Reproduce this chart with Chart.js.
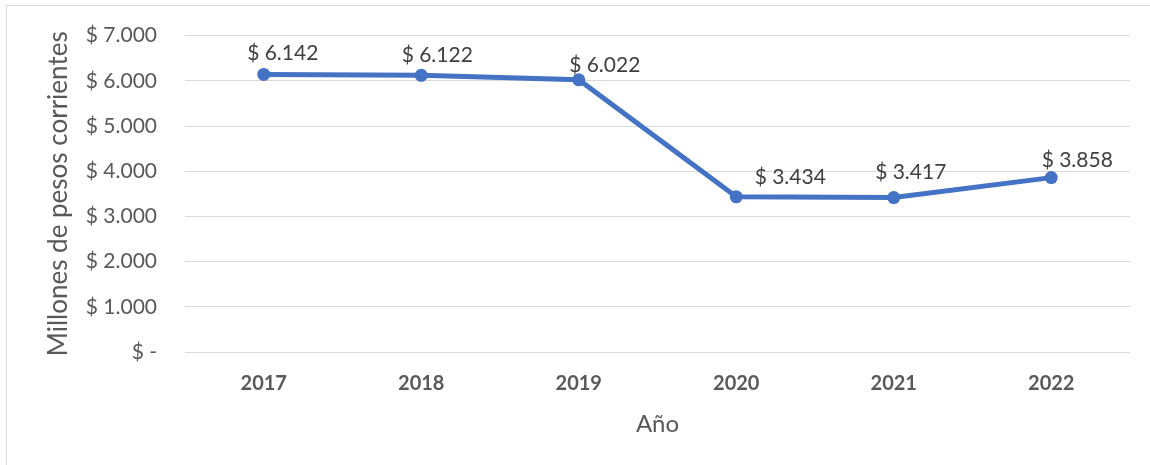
<!DOCTYPE html>
<html>
<head>
<meta charset="utf-8">
<script src="https://cdn.jsdelivr.net/npm/chart.js@4"></script>
<style>
  html, body { margin: 0; padding: 0; background: #fff; }
  #wrap { position: relative; width: 1150px; height: 465px; overflow: hidden; }
  #frame { position: absolute; left: 6px; top: 5px; width: 1200px; height: 500px; border: 1px solid #d9d9d9; box-sizing: border-box; }
  canvas { position: absolute; left: 0; top: -5px; }
</style>
</head>
<body>
<div id="wrap">
  <div id="frame"></div>
  <canvas id="c" width="1150" height="470"></canvas>
</div>
<script>
const categories = ["2017", "2018", "2019", "2020", "2021", "2022"];
const values = [6142, 6122, 6022, 3434, 3417, 3858];
const yTickValues = [0, 1000, 2000, 3000, 4000, 5000, 6000, 7000];
const yTitle = "Millones de pesos corrientes";
const xTitle = "Año";

function fmt(v) {
  if (v === 0) return "$ -";
  const s = Math.round(v).toString().replace(/\B(?=(\d{3})+(?!\d))/g, ".");
  return "$ " + s;
}

const FONT = "Lato, 'Open Sans', sans-serif";

const labelPlugin = {
  id: 'pointLabels',
  afterDatasetsDraw(chart, args, opts) {
    const ctx = chart.ctx;
    const meta = chart.getDatasetMeta(0);
    ctx.save();
    ctx.font = "21px " + FONT;
    ctx.fillStyle = "#404040";
    ctx.textAlign = "center";
    ctx.textBaseline = "middle";
    meta.data.forEach((pt, i) => {
      const off = opts.offsets[i] || [0, -20];
      ctx.fillText(fmt(values[i]), pt.x + off[0], pt.y + off[1]);
    });
    ctx.restore();
  }
};

const chart = new Chart(document.getElementById('c'), {
  type: 'line',
  data: {
    labels: categories,
    datasets: [{
      data: values,
      borderColor: '#4472C4',
      backgroundColor: '#4472C4',
      pointBackgroundColor: '#4472C4',
      pointBorderColor: '#4472C4',
      borderWidth: 5,
      pointRadius: 6.5,
      pointBorderWidth: 0,
      tension: 0,
      fill: false
    }]
  },
  options: {
    responsive: false,
    animation: false,
    devicePixelRatio: 1,
    layout: { padding: { top: 40, right: 20, left: 0, bottom: 0 } },
    plugins: {
      legend: { display: false },
      tooltip: { enabled: false },
      pointLabels: {
        offsets: [[19, -21], [16, -20], [26, -15], [54, -20], [17, -25], [26, -17]]
      }
    },
    scales: {
      x: {
        offset: true,
        grid: { display: false, drawTicks: false },
        border: { display: false },
        ticks: { color: '#595959', padding: 20, font: { family: FONT, size: 20, weight: 'bold' } },
        title: { display: true, text: xTitle, color: '#595959', padding: { top: 0, bottom: 26 }, font: { family: FONT, size: 24 } },
        afterFit(scale) { scale.height = 113; }
      },
      y: {
        min: 0,
        max: 7000,
        afterBuildTicks(scale) { scale.ticks = yTickValues.map(v => ({ value: v })); },
        grid: { color: '#d9d9d9', lineWidth: 1, drawTicks: false },
        border: { display: false },
        ticks: { color: '#595959', padding: 28, font: { family: FONT, size: 21 }, callback: (v) => fmt(v) },
        title: { display: true, text: yTitle, color: '#595959', padding: { top: 43, bottom: 0 }, font: { family: FONT, size: 26 } },
        afterFit(scale) { scale.width = 185; }
      }
    }
  },
  plugins: [labelPlugin]
});
</script>
</body>
</html>
